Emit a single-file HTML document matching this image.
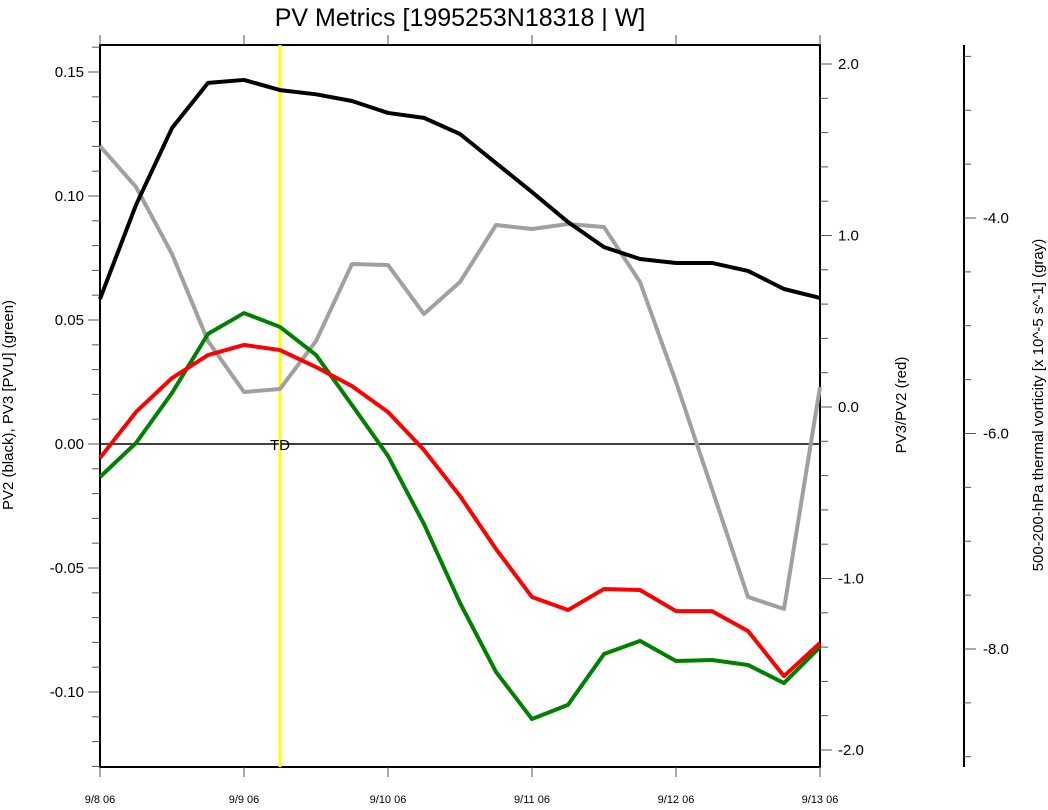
<!DOCTYPE html>
<html><head><meta charset="utf-8"><style>
body{margin:0;background:#fff}
svg text{font-family:"Liberation Sans",sans-serif}
</style></head><body>
<svg id="c" width="1048" height="805">
<text x="460" y="26" font-size="25" text-anchor="middle">PV Metrics [1995253N18318 | W]</text>
<g id="g"></g>
</svg>
<script>
const times=["9/8 06","","","","9/9 06","","","","9/10 06","","","","9/11 06","","","","9/12 06","","","","9/13 06"];
const dayLabels=["9/8 06","9/9 06","9/10 06","9/11 06","9/12 06","9/13 06"];
const pv2=[0.0585,0.0964,0.1274,0.1456,0.1468,0.1427,0.141,0.1383,0.1335,0.1315,0.125,0.1133,0.1016,0.0895,0.0794,0.0746,0.073,0.073,0.0698,0.0625,0.0589];
const pv3=[-0.0133,0.0004,0.0206,0.0444,0.0528,0.0472,0.0359,0.0157,-0.0048,-0.0323,-0.0641,-0.0919,-0.1109,-0.1052,-0.0847,-0.0794,-0.0875,-0.0871,-0.0891,-0.0964,-0.0819];
const ratio=[-0.297,-0.029,0.169,0.303,0.362,0.332,0.233,0.122,-0.029,-0.251,-0.519,-0.828,-1.108,-1.184,-1.061,-1.067,-1.19,-1.19,-1.306,-1.569,-1.376];
const vort=[-3.332,-3.712,-4.334,-5.142,-5.615,-5.587,-5.142,-4.427,-4.436,-4.891,-4.594,-4.065,-4.102,-4.056,-4.084,-4.594,-5.522,-6.515,-7.517,-7.629,-5.568];
const leftTicks=[0.15,0.10,0.05,0.00,-0.05,-0.10];
const leftLabels=["0.15","0.10","0.05","0.00","-0.05","-0.10"];
const redTicks=[2,1,0,-1,-2];
const redLabels=["2.0","1.0","0.0","-1.0","-2.0"];
const grayTicks=[-4,-6,-8];
const grayLabels=["-4.0","-6.0","-8.0"];
const tdTime=5;

const X0=100,X1=820,Y0=45,Y1=767;
const x=i=>X0+i*(X1-X0)/20;
const yL=v=>444-v*2480;
const yR=v=>407-v*171.5;
const yG=v=>218-(v+4)*107.75;
const g=document.getElementById('g');
function el(t,a,txt){const e=document.createElementNS('http://www.w3.org/2000/svg',t);for(const k in a)e.setAttribute(k,a[k]);if(txt!=null)e.textContent=txt;g.appendChild(e);return e;}
function ln(x1,y1,x2,y2,s,w){return el('line',{x1,y1,x2,y2,stroke:s,'stroke-width':w});}

// frame
let f=el('rect',{x:X0,y:Y0,width:X1-X0,height:Y1-Y0,fill:'none',stroke:'#000','stroke-width':2});


// zero line
let z=ln(X0,yL(0),X1,yL(0),'#000',1.5);


// left ticks
for(let v=-0.13;v<=0.161;v+=0.01){const yy=yL(Math.round(v*100)/100);if(yy<Y0||yy>Y1)continue;const maj=Math.abs(Math.round(v*100))%5===0;ln(X0-(maj?12:8),yy,X0,yy,'#555',1);}
leftTicks.forEach((v,i)=>{const t=el('text',{x:84,y:yL(v)+5,'font-size':15,'text-anchor':'end'},leftLabels[i]);

});
// right red ticks
for(let k=-10;k<=10;k++){const v=k*0.2;const yy=yR(v);if(yy<Y0||yy>Y1)continue;const maj=k%5===0;ln(X1,yy,X1+(maj?12:8),yy,'#555',1);}
redTicks.forEach((v,i)=>{const t=el('text',{x:838,y:yR(v)+5,'font-size':15},redLabels[i]);

});
// gray axis
let ga=ln(964,45,964,767,'#000',2);


for(let k=-2;k<=20;k++){const v=-3-k*0.5;const yy=yG(v);if(yy<Y0||yy>Y1)continue;const maj=k%4===2;ln(964,yy,964+(maj?12:7),yy,'#555',1);}
grayTicks.forEach((v,i)=>{const t=el('text',{x:983,y:yG(v)+5,'font-size':15},grayLabels[i]);

});
// x ticks
dayLabels.forEach((d,i)=>{const xx=x(i*4);ln(xx,Y1,xx,Y1+10,'#555',1);ln(xx,Y0,xx,Y0-10,'#555',1);
const t=el('text',{x:xx,y:803,'font-size':11,'text-anchor':'middle'},d);

});
// TD line
let td=ln(x(tdTime),Y0,x(tdTime),Y1,'#ffff00',3);


let tdt=el('text',{x:x(tdTime),y:450,'font-size':15,'text-anchor':'middle'},'TD');


// series
function series(arr,fy,col,name){const p=el('polyline',{points:arr.map((v,i)=>x(i)+','+fy(v)).join(' '),fill:'none',stroke:col,'stroke-width':4,'stroke-linejoin':'round'});

}
series(vort,yG,'#a0a0a0','vorticity-line-gray');
series(pv2,yL,'#000','pv2-line-black');
series(pv3,yL,'#008000','pv3-line-green');
series(ratio,yR,'#ff0000','ratio-line-red');
// axis titles
function vt(xx,yy,s,name){const t=el('text',{x:xx,y:yy,'font-size':15,'text-anchor':'middle',transform:`rotate(-90 ${xx} ${yy})`},s);

}
vt(13,405,'PV2 (black), PV3 [PVU] (green)','left-axis-title');
vt(906,405,'PV3/PV2 (red)','right-axis-title');
vt(1043,405,'500-200-hPa thermal vorticity [x 10^-5 s^-1] (gray)','vorticity-axis-title');
</script>
</body></html>
